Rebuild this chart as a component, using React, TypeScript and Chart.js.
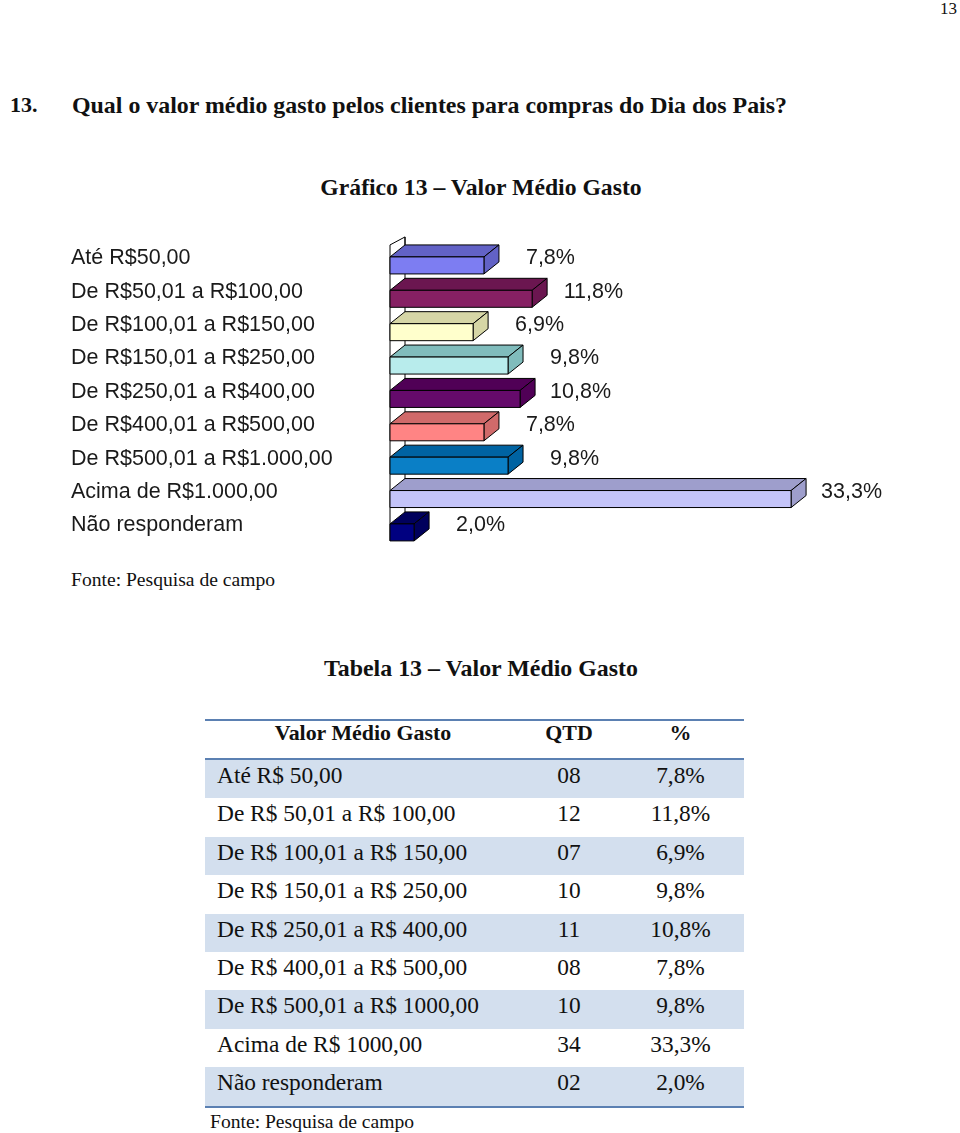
import React, { useEffect, useRef } from "react";
import { Chart, registerables } from "chart.js";

Chart.register(...registerables);

const categories = [
  "Até R$50,00",
  "De R$50,01 a R$100,00",
  "De R$100,01 a R$150,00",
  "De R$150,01 a R$250,00",
  "De R$250,01 a R$400,00",
  "De R$400,01 a R$500,00",
  "De R$500,01 a R$1.000,00",
  "Acima de R$1.000,00",
  "Não responderam",
];
const percents = [7.8, 11.8, 6.9, 9.8, 10.8, 7.8, 9.8, 33.3, 2.0];
const frontColors = ["#7d7df2", "#862063", "#ffffcc", "#b8ecec", "#650a6b", "#ff8484", "#0a7fc6", "#c4c4f8", "#000080"];
const shadeColors = ["#6262c6", "#6b1650", "#d6d6a6", "#80bcbc", "#500056", "#d06a6a", "#0063a2", "#9e9ecc", "#00005c"];

const tableRanges = [
  "Até R$ 50,00",
  "De R$ 50,01 a R$ 100,00",
  "De R$ 100,01 a R$ 150,00",
  "De R$ 150,01 a R$ 250,00",
  "De R$ 250,01 a R$ 400,00",
  "De R$ 400,01 a R$ 500,00",
  "De R$ 500,01 a R$ 1000,00",
  "Acima de R$ 1000,00",
  "Não responderam",
];
const tableQtd = ["08", "12", "07", "10", "11", "08", "10", "34", "02"];
const tablePct = ["7,8%", "11,8%", "6,9%", "9,8%", "10,8%", "7,8%", "9,8%", "33,3%", "2,0%"];

const fmt = (v: number) => v.toFixed(1).replace(".", ",") + "%";

const SANS = "'Liberation Sans', Arial, sans-serif";
const SERIF = "'Liberation Serif', 'Times New Roman', serif";

const DX = 15;
const DY = 12;
const FRONT_H = 17;

const bar3d = {
  id: "bar3d",
  beforeDatasetsDraw(chart: any) {
    const { ctx, chartArea } = chart;
    const meta = chart.getDatasetMeta(0);
    const first = meta.data[0];
    const last = meta.data[meta.data.length - 1];
    const left = chartArea.left;
    const topY = first.y - 1.5 - DY - 8;
    ctx.save();
    ctx.strokeStyle = "#000";
    ctx.lineWidth = 1;
    ctx.beginPath();
    ctx.moveTo(left + DX, last.y - 1.5 - DY + FRONT_H);
    ctx.lineTo(left + DX, topY);
    ctx.lineTo(left, topY + 8);
    ctx.lineTo(left, last.y - 1.5 + FRONT_H);
    ctx.moveTo(left + DX, topY);
    ctx.lineTo(left + DX, topY + 8);
    ctx.stroke();
    ctx.restore();
  },
  afterDatasetsDraw(chart: any) {
    const { ctx } = chart;
    const meta = chart.getDatasetMeta(0);
    ctx.save();
    ctx.lineWidth = 1;
    ctx.strokeStyle = "#000";
    ctx.lineJoin = "round";
    meta.data.forEach((el: any, i: number) => {
      const x0 = el.base;
      const x1 = el.x;
      const ft = el.y - 1.5;
      ctx.beginPath();
      ctx.moveTo(x0, ft);
      ctx.lineTo(x1, ft);
      ctx.lineTo(x1 + DX, ft - DY);
      ctx.lineTo(x0 + DX, ft - DY);
      ctx.closePath();
      ctx.fillStyle = shadeColors[i];
      ctx.fill();
      ctx.stroke();
      ctx.beginPath();
      ctx.moveTo(x1, ft);
      ctx.lineTo(x1 + DX, ft - DY);
      ctx.lineTo(x1 + DX, ft - DY + FRONT_H);
      ctx.lineTo(x1, ft + FRONT_H);
      ctx.closePath();
      ctx.fillStyle = shadeColors[i];
      ctx.fill();
      ctx.stroke();
      ctx.beginPath();
      ctx.rect(x0, ft, x1 - x0, FRONT_H);
      ctx.fillStyle = frontColors[i];
      ctx.fill();
      ctx.stroke();
      ctx.fillStyle = "#1a1a1a";
      ctx.font = `21.5px ${SANS}`;
      ctx.textAlign = "right";
      ctx.textBaseline = "middle";
      ctx.fillText(fmt(percents[i]), x1 + 91, el.y);
    });
    ctx.restore();
  },
};

function BarChart() {
  const ref = useRef<HTMLCanvasElement | null>(null);
  useEffect(() => {
    if (!ref.current) return;
    const chart = new Chart(ref.current, {
      type: "bar",
      data: {
        labels: categories,
        datasets: [
          {
            data: percents,
            backgroundColor: "rgba(0,0,0,0)",
            borderWidth: 0,
            categoryPercentage: 1,
            barPercentage: 0.5,
          },
        ],
      },
      options: {
        indexAxis: "y",
        animation: false,
        responsive: false,
        maintainAspectRatio: false,
        layout: { padding: { left: 71, right: 28, top: 16.75, bottom: 11.75 } },
        plugins: { legend: { display: false }, tooltip: { enabled: false }, title: { display: false } },
        scales: {
          x: { display: false, min: 0, max: 45 },
          y: {
            grid: { display: false },
            border: { display: false },
            afterFit: (scale: any) => {
              scale.width = 319;
            },
            ticks: {
              crossAlign: "far",
              color: "#1a1a1a",
              font: { family: SANS, size: 21.5 },
              padding: 0,
            },
          },
        },
      },
      plugins: [bar3d],
    });
    return () => chart.destroy();
  }, []);
  return (
    <canvas
      ref={ref}
      width={960}
      height={330}
      style={{ position: "absolute", left: 0, top: 225, width: 960, height: 330 }}
    />
  );
}

const abs = (left: number, top: number, extra: any = {}) => ({
  position: "absolute" as const,
  left,
  top,
  whiteSpace: "nowrap" as const,
  color: "#111",
  ...extra,
});

export default function App() {
  const rowH = 38.4;
  const tableTop = 760;
  return (
    <div style={{ position: "absolute", left: 0, top: 0, width: 960, height: 1133, background: "#fff", fontFamily: SERIF, overflow: "hidden" }}>
      <div style={abs(0, 0, { width: 957, textAlign: "right", fontSize: 17, lineHeight: "17px" })}>13</div>
      <div style={abs(10, 91, { fontSize: 22, fontWeight: "bold", lineHeight: "28px" })}>13.</div>
      <div style={abs(72, 91, { fontSize: 23.9, fontWeight: "bold", lineHeight: "28px" })}>
        Qual o valor médio gasto pelos clientes para compras do Dia dos Pais?
      </div>
      <div style={abs(0, 173, { width: 962, textAlign: "center", fontSize: 23.7, fontWeight: "bold", lineHeight: "28px" })}>
        Gráfico 13 – Valor Médio Gasto
      </div>
      <BarChart />
      <div style={abs(71, 569, { fontSize: 19.6, lineHeight: "22px" })}>Fonte: Pesquisa de campo</div>
      <div style={abs(0, 654, { width: 962, textAlign: "center", fontSize: 23.9, fontWeight: "bold", lineHeight: "28px" })}>
        Tabela 13 – Valor Médio Gasto
      </div>
      <div style={{ position: "absolute", left: 205, top: 719, width: 539, height: 2, background: "#5b80b2" }} />
      <div style={abs(205, 714, { width: 316, textAlign: "center", fontSize: 21.9, fontWeight: "bold", lineHeight: "37px" })}>Valor Médio Gasto</div>
      <div style={abs(521, 714, { width: 96, textAlign: "center", fontSize: 21.9, fontWeight: "bold", lineHeight: "37px" })}>QTD</div>
      <div style={abs(617, 714, { width: 127, textAlign: "center", fontSize: 21.9, fontWeight: "bold", lineHeight: "37px" })}>%</div>
      <div style={{ position: "absolute", left: 205, top: 758, width: 539, height: 2, background: "#5b80b2" }} />
      {tableRanges.map((r, i) => {
        const top = tableTop + i * rowH;
        return (
          <React.Fragment key={i}>
            {i % 2 === 0 && (
              <div style={{ position: "absolute", left: 205, top, width: 539, height: rowH, background: "#d3dfee" }} />
            )}
            <div style={abs(217, top - 4, { fontSize: 23.4, lineHeight: `${rowH}px` })}>{r}</div>
            <div style={abs(521, top - 4, { width: 96, textAlign: "center", fontSize: 23.4, lineHeight: `${rowH}px` })}>{tableQtd[i]}</div>
            <div style={abs(617, top - 4, { width: 127, textAlign: "center", fontSize: 23.4, lineHeight: `${rowH}px` })}>{tablePct[i]}</div>
          </React.Fragment>
        );
      })}
      <div style={{ position: "absolute", left: 205, top: tableTop + 9 * rowH, width: 539, height: 2, background: "#5b80b2" }} />
      <div style={abs(210, 1111, { fontSize: 19.6, lineHeight: "22px" })}>Fonte: Pesquisa de campo</div>
    </div>
  );
}
